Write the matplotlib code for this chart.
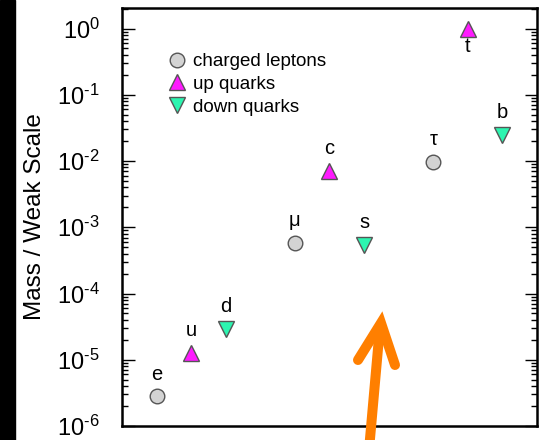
import math
import matplotlib
matplotlib.use('Agg')
import matplotlib.pyplot as plt
from matplotlib.lines import Line2D
from matplotlib.patches import Rectangle
from matplotlib.ticker import LogLocator, NullFormatter, FuncFormatter

plt.rcParams['font.family'] = ['Liberation Sans', 'DejaVu Sans']

# masses divided by the weak scale
lepton_names = ['e', '\u03bc', '\u03c4']
lepton_pos = [0, 4, 8]
lepton_vals = [2.8e-6, 5.8e-4, 9.8e-3]

up_names = ['u', 'c', 't']
up_pos = [1, 5, 9]
up_vals = [1.27e-5, 7.1e-3, 1.0]

down_names = ['d', 's', 'b']
down_pos = [2, 6, 10]
down_vals = [2.9e-5, 5.4e-4, 2.5e-2]

fig = plt.figure(figsize=(5.44, 4.40), dpi=100)
ax = fig.add_axes([122 / 544, 14 / 440, 415 / 544, 418 / 440])

edge = '#555555'
ax.plot(lepton_pos, lepton_vals, 'o', ms=10.5, mfc='#d3d3d3', mec=edge, mew=1.0,
        label='charged leptons')
ax.plot(up_pos, up_vals, '^', ms=12, mfc='#ff1aff', mec=edge, mew=1.0,
        label='up quarks')
ax.plot(down_pos, down_vals, 'v', ms=12, mfc='#2cf5b0', mec=edge, mew=1.0,
        label='down quarks')

# particle names next to each marker
for names, pos, vals in [(lepton_names, lepton_pos, lepton_vals),
                         (up_names, up_pos, up_vals),
                         (down_names, down_pos, down_vals)]:
    for n, x, y in zip(names, pos, vals):
        dy = -17 if n == 't' else 12
        ax.annotate(n, (x, y), xytext=(0, dy), textcoords='offset points',
                    ha='center', va='baseline', fontsize=14.5)


def pow_label(v, _):
    e = int(round(math.log10(v)))
    # short hyphen in the exponent, like the original
    return '$\\mathdefault{10^{%s}}$' % str(e).replace('-', '\u2010')


ax.set_yscale('log')
ax.set_xlim(-1, 11)
ax.set_ylim(1e-6, 10 ** 0.31)
ax.set_xticks([])
ax.yaxis.set_major_locator(LogLocator(base=10, numticks=10))
ax.yaxis.set_major_formatter(FuncFormatter(pow_label))
ax.yaxis.set_minor_locator(LogLocator(base=10, subs=range(2, 10), numticks=20))
ax.yaxis.set_minor_formatter(NullFormatter())
ax.tick_params(axis='y', which='major', direction='in', length=9, width=1,
               right=True, labelsize=17, pad=16)
ax.tick_params(axis='y', which='minor', direction='in', length=4, width=1,
               right=True)
for s in ax.spines.values():
    s.set_linewidth(1.8)

ax.set_ylabel('Mass / Weak Scale', fontsize=17.5, labelpad=8)

ax.legend(loc='upper left', bbox_to_anchor=(0.11, 0.892), frameon=False,
          fontsize=13.5, handlelength=1.0, handletextpad=0.35,
          labelspacing=0.3, borderpad=0, borderaxespad=0)

# black strip on the left edge
fig.add_artist(Rectangle((0, 0), 15 / 544, 1, transform=fig.transFigure,
                         color='black', zorder=0))

# orange arrow pointing up at the gap
def px(x, y):
    return x / 100, (440 - y) / 100

orange = '#ff7f00'
shaft = list(zip(px(369, 450), px(380, 326)))
fig.add_artist(Line2D(shaft[0], shaft[1], transform=fig.dpi_scale_trans,
                      color=orange, lw=7.2, solid_capstyle='butt'))
head = list(zip(px(358, 360), px(381, 323), px(395, 365)))
fig.add_artist(Line2D(head[0], head[1], transform=fig.dpi_scale_trans,
                      color=orange, lw=7.2, solid_capstyle='round',
                      solid_joinstyle='miter'))

fig.savefig('out.png', dpi=100)
